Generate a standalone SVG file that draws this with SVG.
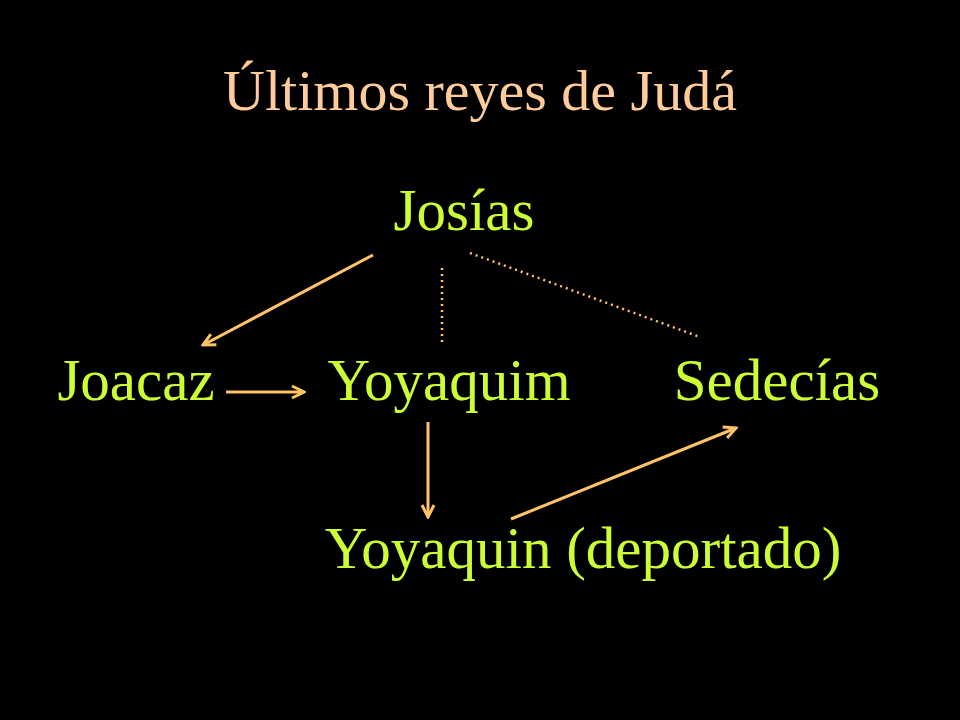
<svg xmlns="http://www.w3.org/2000/svg" width="960" height="720" viewBox="0 0 960 720">
<style>
.t{font-family:"Liberation Serif",serif;font-size:58px;fill:#FFCC99}
.n{font-family:"Liberation Serif",serif;font-size:59px;fill:#CCFF33}
.a{stroke:#FFC266;stroke-width:3;fill:none;marker-end:url(#ah)}
.d{stroke:#FFC266;stroke-width:2.5;fill:none;stroke-dasharray:2 4}
</style>
<defs><marker id="ah" viewBox="-14 -8 16 16" refX="0" refY="0" markerWidth="16" markerHeight="16" markerUnits="userSpaceOnUse" orient="auto"><path d="M-12,-6 L0,0 L-12,6" fill="none" stroke="#FFC266" stroke-width="3"/></marker></defs>
<rect width="960" height="720" fill="#000"/>
<text class="t" x="480" y="110" text-anchor="middle">Últimos reyes de Judá</text>
<g id="josias"><text class="n" x="464" y="230" text-anchor="middle">Josías</text></g>
<g id="joacaz"><text class="n" x="136" y="400" text-anchor="middle">Joacaz</text></g>
<g id="yoyaquim"><text class="n" x="449" y="400" text-anchor="middle">Yoyaquim</text></g>
<g id="sedecias"><text class="n" x="777" y="400" text-anchor="middle">Sedecías</text></g>
<g id="yoyaquin"><text class="n" x="583" y="568" text-anchor="middle">Yoyaquin (deportado)</text></g>
<g id="connectors">
<line class="a" x1="373" y1="255" x2="203" y2="345"/>
<line class="d" x1="442" y1="268" x2="442" y2="342"/>
<line class="d" x1="470" y1="253" x2="700" y2="337"/>
<line class="a" x1="226" y1="392" x2="304" y2="392"/>
<line class="a" x1="428" y1="422" x2="428" y2="517"/>
<line class="a" x1="511" y1="519" x2="736" y2="428"/>
</g>
</svg>
